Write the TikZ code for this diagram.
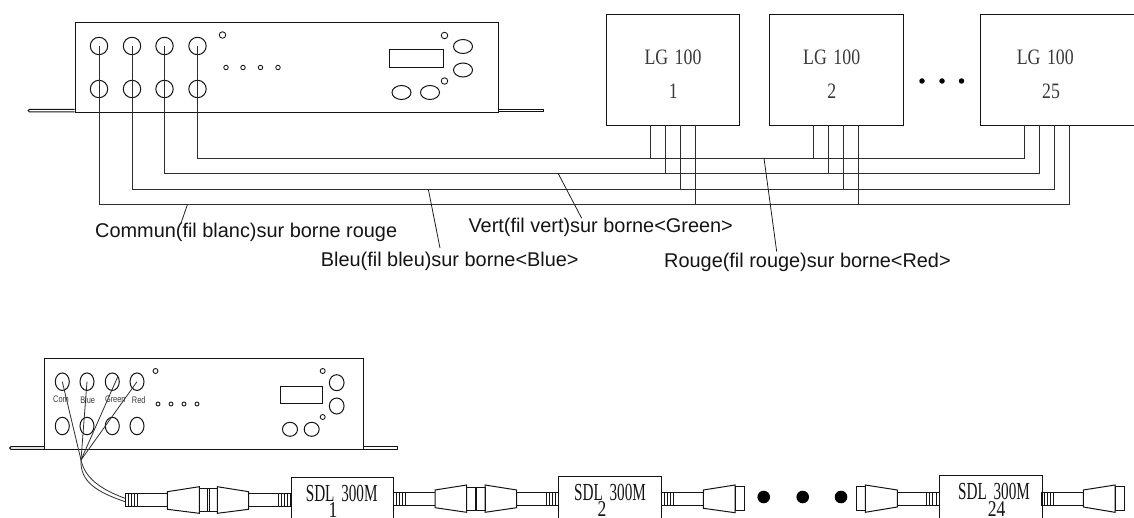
\documentclass[tikz,border=0pt]{standalone}
\usepackage{fontspec}
\usetikzlibrary{shapes.geometric}
\setmainfont{Liberation Sans}
\newfontfamily\lgfont[FakeStretch=0.81]{Liberation Serif}
\newfontfamily\sdlfont[FakeStretch=0.62]{Liberation Serif}
\newfontfamily\sdlnum[FakeStretch=0.78]{Liberation Serif}
\newfontfamily\tinyfont[FakeStretch=0.78]{Liberation Sans}
\definecolor{ink}{gray}{0.08}
\definecolor{wirecol}{gray}{0.18}
\tikzset{
  lw/.style={line width=1pt,draw=ink},
  wire/.style={line width=1pt,draw=wirecol},
  leader/.style={line width=0.75pt,draw=ink},
  panel/.style={lw,fill=none,rectangle,inner sep=0pt,anchor=north west},
  jack/.style={lw,circle,inner sep=0pt,minimum size=17.4pt},
  tinyled/.style={line width=0.85pt,draw=ink,circle,inner sep=0pt,minimum size=#1},
  knob/.style={lw,ellipse,inner sep=0pt,minimum width=19pt,minimum height=14pt},
  knobtall/.style={lw,ellipse,inner sep=0pt,minimum width=14pt,minimum height=17.5pt},
  lgtext/.style={inner sep=0pt,anchor=base,font={\lgfont\fontsize{22}{22}\selectfont},text=ink!85},
  sdltext/.style={inner sep=0pt,anchor=base,font={\sdlfont\fontsize{24.5}{24.5}\selectfont},text=ink},
  sdlnumtext/.style={inner sep=0pt,anchor=base,font={\sdlnum\fontsize{22.5}{22.5}\selectfont},text=ink},
  caption/.style={inner sep=0pt,anchor=base west,font={\fontsize{19.9}{20}\selectfont},text=ink},
  termlabel/.style={inner sep=0pt,font={\tinyfont\fontsize{9.5}{9.5}\selectfont},text=ink!85},
  bigdot/.style={circle,fill=black,inner sep=0pt,minimum size=#1},
}
\newcommand{\HatchBlock}[4]{% xa xb ytop ybot
  \draw[lw,line width=0.8pt] (#1,#3) rectangle (#2,#4);
  \foreach \f in {0.25,0.5,0.75}{\draw[lw,line width=0.8pt] ({#1+\f*(#2-#1)},#3) -- ({#1+\f*(#2-#1)},#4);}
}
\newcommand{\RodBlock}[4]{\draw[lw] (#1,#3) -- (#2,#3) (#1,#4) -- (#2,#4);}
\newcommand{\ConeBlock}[6]{\draw[lw] (#1,#3) -- (#2,#5) -- (#2,#6) -- (#1,#4) -- cycle;}
\newcommand{\CollarBlock}[4]{\draw[lw] (#1,#3) rectangle (#2,#4);}
\newcommand{\SDLtitle}{SDL\hspace{3pt} 300M}
\begin{document}
\begin{tikzpicture}[x=1pt,y=-1pt]
\useasboundingbox (0,0) rectangle (1134,518);
\clip (0,0) rectangle (1134,518);
% ---- top controller
\node[panel,minimum width=423.5pt,minimum height=89.5pt] (top) at (74.5,22.5) {};
\draw[lw] (74.5,109.3) -- (29.5,109.3) arc[start angle=90,end angle=270,radius=1.35pt] -- (74.5,112);
\draw[lw] (498,109.3) -- (543.3,109.3) -- (543.3,112) -- (498,112);
\foreach \n/\x in {a/99,b/132,c/164.5,d/197.5}{
  \node[jack] (u\n) at (\x,46) {};
  \node[jack] (l\n) at (\x,89) {};
}
\node[tinyled=6.5pt] (tled) at (222.5,35) {};
\foreach \n/\x in {1/226,2/243,3/260.5,4/278}{\node[tinyled=4.5pt] (td\n) at (\x,67.5) {};}
\node[panel,minimum width=54.5pt,minimum height=17.2pt] (tdisp) at (388.5,49.5) {};
\node[tinyled=6.5pt] (tr1) at (444.5,35.5) {};
\node[tinyled=6.5pt] (tr2) at (444.5,81) {};
\node[knob] (tk1) at (463,46.5) {};
\node[knob] (tk2) at (463,70) {};
\node[knob] (tk3) at (401.5,92.5) {};
\node[knob] (tk4) at (430,92.5) {};
% ---- LG boxes
\node[panel,minimum width=133.6pt,minimum height=111pt] (lg1) at (605.7,14) {};
\node[panel,minimum width=133.7pt,minimum height=111pt] (lg2) at (769,14) {};
\node[panel,minimum width=170pt,minimum height=111pt] (lg3) at (979.7,14) {};
\node[lgtext] (lg1a) at (673,65) {LG\hspace{2pt} 100};
\node[lgtext] (lg1b) at (673.3,98.3) {1};
\node[lgtext] (lg2a) at (831.7,65) {LG\hspace{2pt} 100};
\node[lgtext] (lg2b) at (831.7,98.3) {2};
\node[lgtext] (lg3a) at (1045.3,65) {LG\hspace{2pt} 100};
\node[lgtext] (lg3b) at (1051,98.3) {25};
\foreach \n/\x in {1/922,2/942,3/961.5}{\node[bigdot=5.5pt] (tdot\n) at (\x,81) {};}
% ---- wire terminals on the LG boxes
\foreach \b/\xa/\xb/\xc/\xd in {1/650.3/665.3/680.3/695,2/813.3/828.3/843.3/858,3/1024/1039/1054/1069}{
  \coordinate (p\b a) at (\xa,125);
  \coordinate (p\b b) at (\xb,125);
  \coordinate (p\b c) at (\xc,125);
  \coordinate (p\b d) at (\xd,125);
}
\coordinate (busd) at (0,158.3);
\coordinate (busc) at (0,173.7);
\coordinate (busb) at (0,189.3);
\coordinate (busa) at (0,205);
% ---- bus
\draw[wire] (ud.center) -- (ud.center |- busd) -- (p3a |- busd) -- (p3a);
\draw[wire] (uc.center) -- (uc.center |- busc) -- (p3b |- busc) -- (p3b);
\draw[wire] (ub.center) -- (ub.center |- busb) -- (p3c |- busb) -- (p3c);
\draw[wire] (ua.center) -- (ua.center |- busa) -- (p3d |- busa) -- (p3d);
\foreach \b in {1,2}{
  \draw[wire] (p\b a) -- (p\b a |- busd);
  \draw[wire] (p\b b) -- (p\b b |- busc);
  \draw[wire] (p\b c) -- (p\b c |- busb);
  \draw[wire] (p\b d) -- (p\b d |- busa);
}
% ---- captions
\node[caption] (capc) at (95,238) {Commun(fil blanc)sur borne rouge};
\node[caption] (capb) at (320.7,266.7) {Bleu(fil bleu)sur borne<Blue>};
\node[caption] (capv) at (468.3,232.3) {Vert(fil vert)sur borne<Green>};
\node[caption] (capr) at (664,267.3) {Rouge(fil rouge)sur borne<Red>};
\coordinate (lc0) at (187.3,205);   \coordinate (lc1) at (180.7,224);
\coordinate (lb0) at (428.3,189.3); \coordinate (lb1) at (440,248);
\coordinate (lv0) at (558.3,173.7); \coordinate (lv1) at (581.7,218.3);
\coordinate (lr0) at (764,158.3);   \coordinate (lr1) at (776.7,251.7);
\draw[leader] (lc0) -- (lc1);
\draw[leader] (lb0) -- (lb1);
\draw[leader] (lv0) -- (lv1);
\draw[leader] (lr0) -- (lr1);
% ---- bottom controller
\node[panel,minimum width=319pt,minimum height=91.3pt] (bot) at (44,358) {};
\draw[lw] (44,446.7) -- (11,446.7) arc[start angle=90,end angle=270,radius=1.3pt] -- (44,449.3);
\draw[lw] (363,446.7) -- (397.3,446.7) -- (397.3,449.3) -- (363,449.3);
\foreach \n/\x in {a/62.3,b/87,c/112.3,d/137}{
  \node[knobtall] (bu\n) at (\x,381.7) {};
  \node[knobtall] (bl\n) at (\x,426) {};
}
\node[termlabel] (tcom) at (61,399.7) {Com};
\node[termlabel] (tblue) at (87.7,399.7) {Blue};
\node[termlabel] (tgreen) at (115.3,399.7) {Green};
\node[termlabel] (tred) at (138.7,399.7) {Red};
\node[tinyled=5pt] (bled) at (155.5,371) {};
\foreach \n/\x in {1/158,2/171,3/184,4/197}{\node[tinyled=4pt] (bd\n) at (\x,404) {};}
\node[panel,minimum width=41.5pt,minimum height=16.7pt] (bdisp) at (280,386) {};
\node[tinyled=5pt] (br1) at (322.7,371) {};
\node[tinyled=5pt] (br2) at (322.7,417) {};
\node[lw,ellipse,inner sep=0pt,minimum width=14.7pt,minimum height=16pt] (bk1) at (336.7,382.7) {};
\node[lw,ellipse,inner sep=0pt,minimum width=14.7pt,minimum height=16pt] (bk2) at (336.7,406) {};
\node[lw,ellipse,inner sep=0pt,minimum width=15pt,minimum height=14pt] (bk3) at (290,429.3) {};
\node[lw,ellipse,inner sep=0pt,minimum width=15pt,minimum height=14pt] (bk4) at (311.7,429.3) {};
% ---- fan of wires and cable
\coordinate (hub) at (81,460);
\draw[wire,line width=0.8pt] (bua.center) -- (hub);
\draw[wire,line width=0.8pt] (bub.center) -- (hub);
\draw[wire,line width=0.8pt] (buc.45) -- (hub);
\draw[wire,line width=0.8pt] (bud.center) -- (hub);
\coordinate (cabA) at (125,501.7);
\coordinate (cabB) at (125,498.3);
\draw[wire,line width=0.8pt] (hub) .. controls (80,482) and (97,492) .. (cabA);
\draw[wire,line width=0.8pt] (hub) .. controls (85,478) and (100,489) .. (cabB);
% ---- plug chain: first pair
\HatchBlock{125.3}{137.5}{493.7}{506.3}
\RodBlock{137.5}{167.3}{493.7}{506.3}
\ConeBlock{167.3}{199.3}{491.7}{509.3}{486.7}{513.3}
\CollarBlock{199.3}{217.3}{488.3}{511.7}
\draw[lw] (207.8,488.3) -- (207.8,511.7) (209,488.3) -- (209,511.7);
\ConeBlock{217.3}{248.7}{486.7}{513.3}{491.7}{509.3}
\RodBlock{248.7}{278.3}{493.7}{506.3}
\HatchBlock{278.3}{290.7}{493.7}{506.3}
% ---- SDL 1
\node[panel,minimum width=102.6pt,minimum height=60pt] (sdl1) at (290.7,476.7) {};
\node[sdltext] (sdl1a) at (341.7,501.5) {\SDLtitle};
\node[sdlnumtext] (sdl1b) at (333,517.3) {1};
% ---- second pair
\HatchBlock{393.3}{405.7}{492.3}{505}
\RodBlock{405.7}{435}{492.3}{505}
\ConeBlock{435}{466.7}{490}{507.7}{485}{512.3}
\CollarBlock{466.7}{485}{487}{510.5}
\draw[lw] (475.2,487) -- (475.2,510.5) (476.4,487) -- (476.4,510.5);
\ConeBlock{485}{516.7}{485}{512.3}{490}{507.7}
\RodBlock{516.7}{546.7}{492.3}{505}
\HatchBlock{546.7}{558.3}{492.3}{505}
% ---- SDL 2
\node[panel,minimum width=103pt,minimum height=60pt] (sdl2) at (558.3,475.5) {};
\node[sdltext] (sdl2a) at (610,500) {\SDLtitle};
\node[sdlnumtext] (sdl2b) at (602,516.7) {2};
% ---- half pair after SDL 2
\HatchBlock{661.3}{673.3}{492.3}{505}
\RodBlock{673.3}{703.3}{492.3}{505}
\ConeBlock{703.3}{735}{490}{508.3}{485}{512.7}
\CollarBlock{735}{744}{486.7}{510.7}
\node[bigdot=12.6pt] (bdot1) at (763.7,497) {};
\node[bigdot=12.6pt] (bdot2) at (802.7,497) {};
\node[bigdot=12.6pt] (bdot3) at (841,497) {};
% ---- half pair before SDL 24
\CollarBlock{856.7}{865.3}{486.7}{510}
\ConeBlock{865.3}{897.3}{485}{512.3}{490}{507}
\RodBlock{897.3}{926.7}{492.3}{505}
\HatchBlock{926.7}{939}{492.3}{505}
% ---- SDL 24
\node[panel,minimum width=102.7pt,minimum height=60pt] (sdl3) at (939,474.7) {};
\node[sdltext] (sdl3a) at (994,499) {\SDLtitle};
\node[sdlnumtext] (sdl3b) at (996.7,516) {24};
% ---- tail
\HatchBlock{1041.7}{1053.3}{492.3}{505}
\RodBlock{1053.3}{1083.3}{492.3}{505}
\ConeBlock{1083.3}{1115}{490}{507}{485}{512.3}
\CollarBlock{1115}{1124.3}{486.7}{510}
\end{tikzpicture}
\end{document}
